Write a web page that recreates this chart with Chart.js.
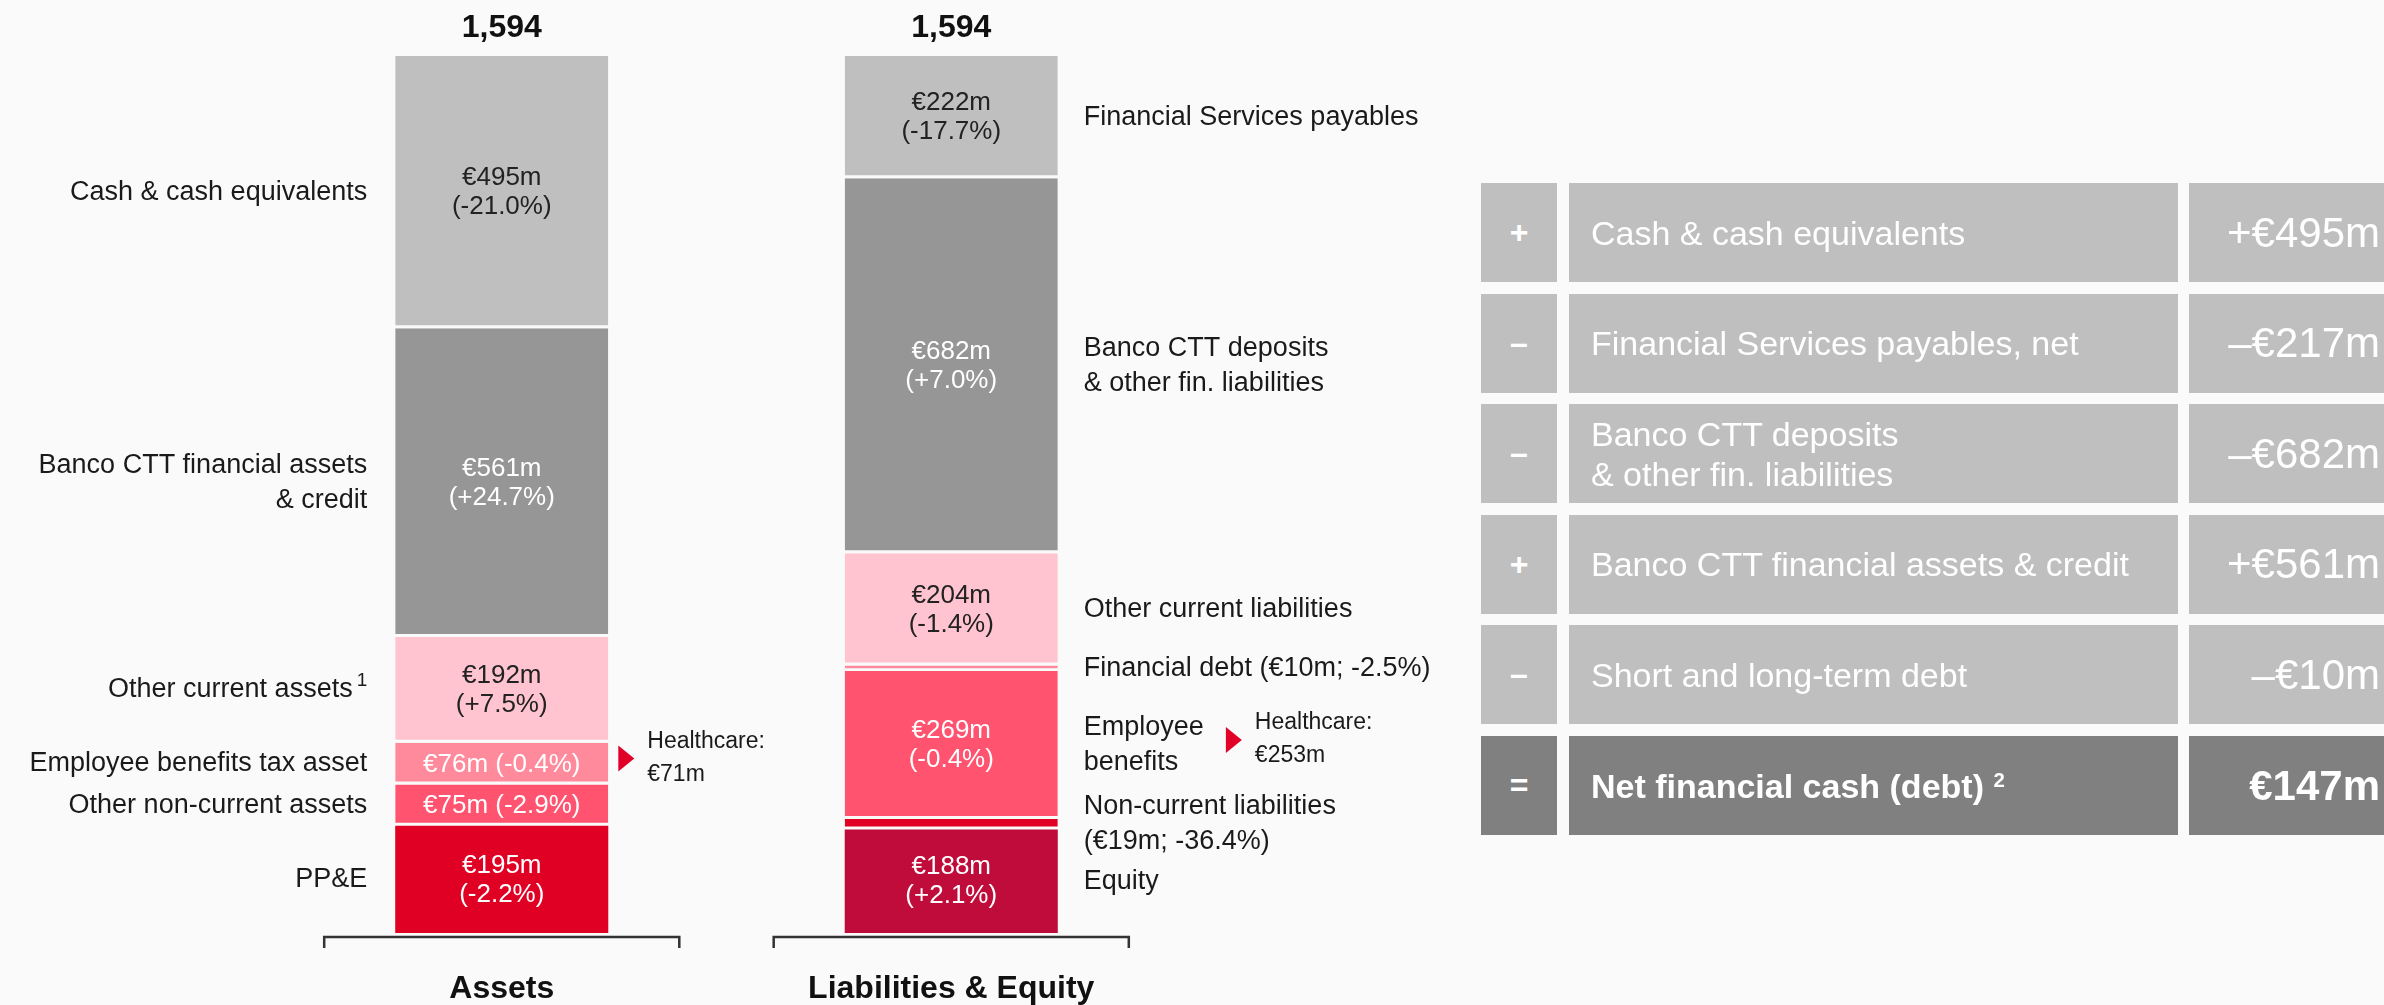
<!DOCTYPE html>
<html><head><meta charset="utf-8">
<script src="https://cdn.jsdelivr.net/npm/chart.js@4.4.1/dist/chart.umd.min.js"></script>
<style>
html,body{margin:0;padding:0;background:#fafafa;width:2384px;height:1005px;overflow:hidden;font-family:"Liberation Sans",Arial,sans-serif;}
#wrap{position:relative;width:2384px;height:1005px;}
#c{position:absolute;left:0;top:0;}
.cell{position:absolute;display:flex;align-items:center;box-sizing:border-box;color:#fff;}
.sign{justify-content:center;font-size:32px;font-weight:bold;}
.lab{padding-left:22px;font-size:34px;line-height:40px;}
.val{justify-content:flex-end;padding-right:4px;font-size:42px;}
sup{font-size:0.6em;vertical-align:0.55em;line-height:0;}
</style></head>
<body><div id="wrap"><canvas id="c" width="2384" height="1005"></canvas><div id="tbl"></div></div>
<script>
// ---------- data ----------
const categories = ['Assets', 'Liabilities & Equity'];
const totals = ['1,594', '1,594'];
// stacked bottom -> top
const assetNames = ['PP&E', 'Other non-current assets', 'Employee benefits tax asset', 'Other current assets', 'Banco CTT financial assets\n& credit', 'Cash & cash equivalents'];
const assetNotes = ['', '', '', '1', '', ''];
const assetValues = [195, 75, 76, 192, 561, 495];
const assetChanges = ['-2.2%', '-2.9%', '-0.4%', '+7.5%', '+24.7%', '-21.0%'];
const liabNames = ['Equity', 'Non-current liabilities\n(€19m; -36.4%)', 'Employee\nbenefits', 'Financial debt (€10m; -2.5%)', 'Other current liabilities', 'Banco CTT deposits\n& other fin. liabilities', 'Financial Services payables'];
const liabValues = [188, 19, 269, 10, 204, 682, 222];
const liabChanges = ['+2.1%', '-36.4%', '-0.4%', '-2.5%', '-1.4%', '+7.0%', '-17.7%'];
const healthcareLabel = 'Healthcare:';
const healthcareValues = ['€71m', '€253m'];   // assets: employee benefits tax asset, liabilities: employee benefits
const healthcareSegment = [2, 2];

const tableSigns = ['+', '–', '–', '+', '–', '='];
const tableLabels = ['Cash & cash equivalents', 'Financial Services payables, net', 'Banco CTT deposits\n& other fin. liabilities', 'Banco CTT financial assets & credit', 'Short and long-term debt', 'Net financial cash (debt)'];
const tableNotes = ['', '', '', '', '', '2'];
const tableValues = ['+€495m', '–€217m', '–€682m', '+€561m', '–€10m', '€147m'];

// ---------- styles ----------
const assetColors = ['#df0024', '#ff5370', '#ff8a9c', '#ffc4cf', '#969696', '#bfbfbf'];
const assetText = ['#fff', '#fff', '#fff', '#222', '#fff', '#222'];
const liabColors = ['#c00c3b', '#df0024', '#ff5370', '#ff8a9c', '#ffc4cf', '#969696', '#bfbfbf'];
const liabText = ['#fff', '#fff', '#fff', '#fff', '#222', '#fff', '#222'];
const BG = '#fafafa';
const FONT = '"Liberation Sans", Arial, sans-serif';

const datasets = [];
function addGroup(names, values, changes, colors, txt, notes, idx) {
  values.forEach((v, i) => {
    const data = [null, null];
    data[idx] = v;
    datasets.push({
      label: names[i].replace('\n', ' '),
      data,
      backgroundColor: colors[i],
      borderColor: BG,
      borderWidth: i === 0 ? 0 : {top: 0, left: 0, right: 0, bottom: 3},
      borderSkipped: false,
      _group: idx, _seg: i, _name: names[i], _change: changes[i], _txt: txt[i], _note: notes ? notes[i] : ''
    });
  });
}
addGroup(assetNames, assetValues, assetChanges, assetColors, assetText, assetNotes, 0);
addGroup(liabNames, liabValues, liabChanges, liabColors, liabText, null, 1);

function drawTriangle(ctx, x, y) {
  ctx.save();
  ctx.fillStyle = '#e00028';
  ctx.beginPath();
  ctx.moveTo(x, y - 13);
  ctx.lineTo(x + 16, y);
  ctx.lineTo(x, y + 13);
  ctx.closePath();
  ctx.fill();
  ctx.restore();
}

const labelPlugin = {
  id: 'labelPlugin',
  afterDatasetsDraw(chart) {
    const ctx = chart.ctx;
    const xs = chart.scales.x;
    const area = chart.chartArea;
    ctx.save();
    chart.data.datasets.forEach((ds, di) => {
      const g = ds._group;
      const el = chart.getDatasetMeta(di).data[g];
      if (!el) return;
      const top = Math.min(el.y, el.base), bot = Math.max(el.y, el.base);
      const h = bot - top, cy = (top + bot) / 2;
      const left = el.x - el.width / 2, right = el.x + el.width / 2;
      const v = ds.data[g];
      // inside labels
      ctx.fillStyle = ds._txt;
      ctx.font = '26px ' + FONT;
      ctx.textAlign = 'center';
      ctx.textBaseline = 'middle';
      if (h > 80) {
        ctx.fillText('€' + v + 'm', el.x, cy - 14);
        ctx.fillText('(' + ds._change + ')', el.x, cy + 15);
      } else if (h > 30) {
        ctx.fillText('€' + v + 'm (' + ds._change + ')', el.x, cy + 1);
      }
      // side labels
      const lines = ds._name.split('\n');
      ctx.fillStyle = '#1a1a1a';
      ctx.font = '27px ' + FONT;
      const lh = 35;
      let maxW = 0;
      lines.forEach((ln, k) => {
        const y = cy + (k - (lines.length - 1) / 2) * lh;
        if (g === 0) {
          let xr = left - 28;
          if (ds._note) {
            ctx.font = '19px ' + FONT;
            ctx.textAlign = 'right';
            ctx.fillText(ds._note, xr, y - 9);
            xr -= ctx.measureText(ds._note).width + 4;
            ctx.font = '27px ' + FONT;
          }
          ctx.textAlign = 'right';
          ctx.fillText(ln, xr, y);
        } else {
          ctx.textAlign = 'left';
          ctx.fillText(ln, right + 26, y);
          maxW = Math.max(maxW, ctx.measureText(ln).width);
        }
      });
      // healthcare callouts
      if (ds._seg === healthcareSegment[g]) {
        const ax = g === 0 ? right + 10 : right + 26 + maxW + 22;
        drawTriangle(ctx, ax, cy - 5);
        ctx.fillStyle = '#1a1a1a';
        ctx.font = '23px ' + FONT;
        ctx.textAlign = 'left';
        ctx.fillText(healthcareLabel, ax + 29, cy - 22);
        ctx.fillText(healthcareValues[g], ax + 29, cy + 11);
      }
    });
    // totals, brackets, category labels
    categories.forEach((c, i) => {
      const cx = xs.getPixelForValue(i);
      const half = xs.width / categories.length * 0.395;
      ctx.fillStyle = '#111';
      ctx.font = 'bold 32px ' + FONT;
      ctx.textAlign = 'center';
      ctx.textBaseline = 'middle';
      ctx.fillText(totals[i], cx, area.top - 28);
      ctx.fillText(c, cx, area.bottom + 56);
      ctx.strokeStyle = '#333';
      ctx.lineWidth = 2.5;
      ctx.beginPath();
      ctx.moveTo(cx - half, area.bottom + 15);
      ctx.lineTo(cx - half, area.bottom + 4);
      ctx.lineTo(cx + half, area.bottom + 4);
      ctx.lineTo(cx + half, area.bottom + 15);
      ctx.stroke();
    });
    ctx.restore();
  }
};

new Chart(document.getElementById('c'), {
  type: 'bar',
  data: {labels: categories, datasets},
  options: {
    responsive: false,
    animation: false,
    layout: {padding: {left: 277, right: 1208, top: 56, bottom: 72}},
    plugins: {legend: {display: false}, tooltip: {enabled: false}},
    datasets: {bar: {barPercentage: 0.474, categoryPercentage: 1}},
    scales: {
      x: {stacked: true, display: false},
      y: {stacked: true, display: false, min: 0, max: 1594}
    }
  },
  plugins: [labelPlugin]
});

// ---------- summary table ----------
const tbl = document.getElementById('tbl');
tableLabels.forEach((lab, i) => {
  const top = 183 + i * 110.6;
  const last = i === tableLabels.length - 1;
  const bg = last ? '#808080' : '#bfbfbf';
  const fw = last ? 'bold' : 'normal';
  const mk = (cls, left, width, html) => {
    const d = document.createElement('div');
    d.className = 'cell ' + cls;
    d.style.cssText = `left:${left}px;top:${top}px;width:${width}px;height:99px;background:${bg};font-weight:${cls === 'sign' ? 'bold' : fw};`;
    d.innerHTML = html;
    tbl.appendChild(d);
  };
  mk('sign', 1481, 76, tableSigns[i]);
  const txt = lab.replace(/&/g, '&amp;').replace('\n', '<br>') + (tableNotes[i] ? ' <sup>' + tableNotes[i] + '</sup>' : '');
  mk('lab', 1569, 609, '<div>' + txt + '</div>');
  mk('val', 2189, 195, tableValues[i]);
});
</script>
</body></html>
